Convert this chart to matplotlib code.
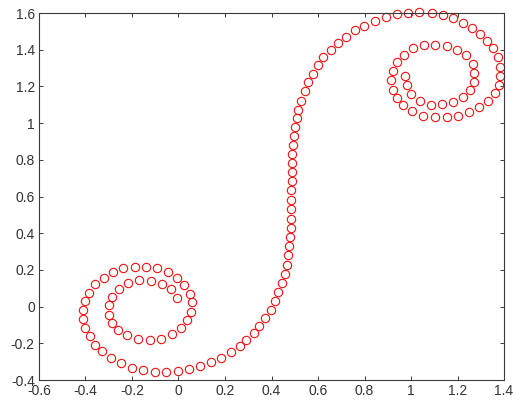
import matplotlib.pyplot as plt
from matplotlib.ticker import FormatStrFormatter, MultipleLocator
import numpy as np

# points of the curve
# lower-left coil (inner end first, then outward along the bottom)
coil_lo_x = [-0.005, -0.034, -0.070, -0.117, -0.170, -0.216, -0.256, -0.285, -0.299, -0.299,
             -0.285, -0.261, -0.223, -0.175, -0.123, -0.074, -0.027, 0.012, 0.038, 0.052,
             0.057, 0.048, 0.024, -0.005, -0.045, -0.091, -0.139, -0.188, -0.238, -0.282,
             -0.321, -0.357, -0.383, -0.400, -0.410, -0.410, -0.400, -0.381, -0.357, -0.328,
             -0.292, -0.246, -0.202, -0.153, -0.103, -0.053, -0.002, 0.045, 0.092, 0.138,
             0.181, 0.225, 0.263, 0.291, 0.324, 0.348]
coil_lo_y = [0.045, 0.094, 0.121, 0.139, 0.145, 0.130, 0.098, 0.054, 0.007, -0.045,
             -0.090, -0.127, -0.154, -0.174, -0.181, -0.174, -0.150, -0.114, -0.072, -0.027,
             0.025, 0.071, 0.116, 0.154, 0.188, 0.208, 0.215, 0.215, 0.208, 0.188,
             0.157, 0.121, 0.076, 0.031, -0.018, -0.069, -0.118, -0.159, -0.208, -0.244,
             -0.281, -0.308, -0.335, -0.346, -0.355, -0.355, -0.349, -0.340, -0.326, -0.304,
             -0.281, -0.250, -0.214, -0.184, -0.143, -0.105]

# the rising middle part and the arc over the top
middle_x = [0.372, 0.396, 0.414, 0.430, 0.443, 0.458, 0.467, 0.472, 0.476, 0.480,
            0.482, 0.483, 0.484, 0.484, 0.485, 0.486, 0.487, 0.488, 0.489, 0.492,
            0.496, 0.500, 0.508, 0.516, 0.528, 0.543, 0.558, 0.577, 0.601, 0.623,
            0.655, 0.687, 0.720, 0.759, 0.798, 0.845, 0.894, 0.940, 0.987, 1.034]
middle_y = [-0.064, -0.016, 0.031, 0.080, 0.129, 0.180, 0.229, 0.281, 0.333, 0.382,
            0.431, 0.480, 0.532, 0.581, 0.633, 0.684, 0.734, 0.783, 0.832, 0.881,
            0.930, 0.979, 1.028, 1.074, 1.123, 1.175, 1.222, 1.268, 1.317, 1.359,
            1.398, 1.435, 1.471, 1.507, 1.531, 1.556, 1.580, 1.593, 1.603, 1.607]

# upper-right coil (outer turn first, inner end last)
coil_hi_x = [1.089, 1.136, 1.181, 1.224, 1.261, 1.297, 1.327, 1.353, 1.372, 1.381,
             1.384, 1.377, 1.361, 1.331, 1.294, 1.251, 1.203, 1.154, 1.103, 1.053,
             1.006, 0.966, 0.938, 0.921, 0.914, 0.921, 0.939, 0.969, 1.009, 1.054,
             1.103, 1.154, 1.199, 1.237, 1.265, 1.273, 1.270, 1.254, 1.222, 1.181,
             1.134, 1.085, 1.037, 1.001, 0.981, 0.972]
coil_hi_y = [1.603, 1.592, 1.571, 1.544, 1.518, 1.486, 1.450, 1.408, 1.360, 1.307,
             1.257, 1.208, 1.162, 1.120, 1.087, 1.060, 1.041, 1.032, 1.032, 1.041,
             1.064, 1.097, 1.137, 1.183, 1.233, 1.283, 1.332, 1.374, 1.407, 1.424,
             1.428, 1.419, 1.401, 1.370, 1.324, 1.275, 1.226, 1.180, 1.144, 1.117,
             1.103, 1.101, 1.119, 1.160, 1.206, 1.257]

x_ticks = np.arange(-0.6, 1.41, 0.2)
y_ticks = np.arange(-0.4, 1.61, 0.2)

plt.rcParams['font.family'] = ['Liberation Sans', 'DejaVu Sans']
plt.rcParams['axes.unicode_minus'] = False

xs = coil_lo_x + middle_x + coil_hi_x
ys = coil_lo_y + middle_y + coil_hi_y

fig = plt.figure(figsize=(5.13, 4.05), dpi=100)
ax = fig.add_axes([0.076, 0.0617, 0.9065, 0.906])

ax.plot(xs, ys, 'o', mfc='none', mec='#ee1111', ms=6, mew=0.8,
        linestyle='none', clip_on=False)

ax.set_xlim(-0.6, 1.4)
ax.set_ylim(-0.4, 1.6)
ax.set_xticks(x_ticks)
ax.set_yticks(y_ticks)

def fmt(v, pos=None):
    return '%g' % round(v, 1)

ax.xaxis.set_major_formatter(plt.FuncFormatter(fmt))
ax.yaxis.set_major_formatter(plt.FuncFormatter(fmt))

edge = '#3a3a3a'
for s in ax.spines.values():
    s.set_color(edge)
    s.set_linewidth(0.8)
ax.tick_params(direction='in', length=3, width=0.7, colors=edge,
               labelsize=10, top=True, right=True, pad=3)
for lab in ax.get_xticklabels() + ax.get_yticklabels():
    lab.set_color('#333333')

fig.savefig('out.png', dpi=100)
